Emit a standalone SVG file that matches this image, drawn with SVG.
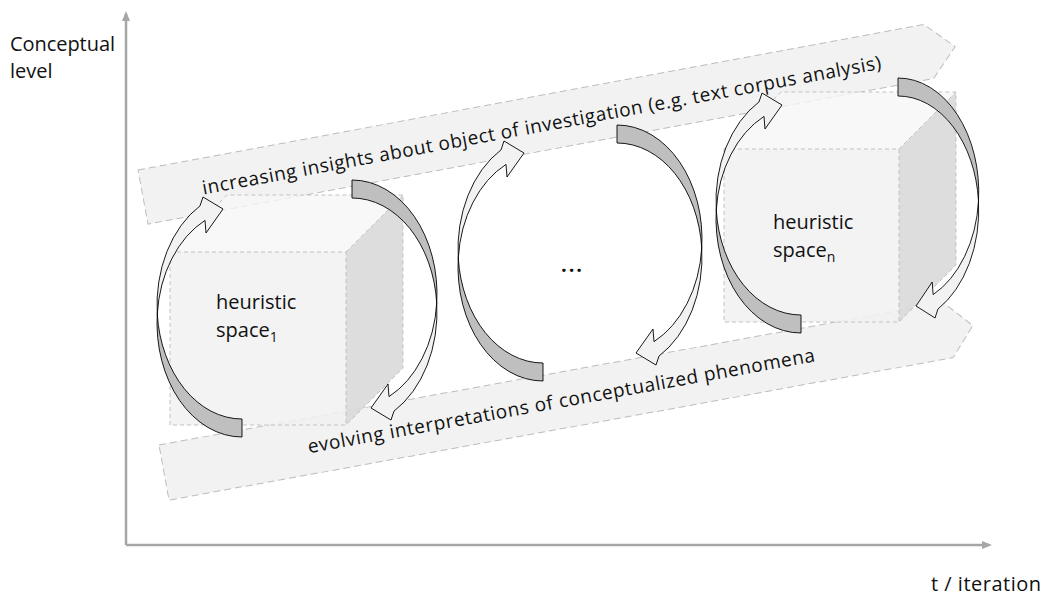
<svg xmlns="http://www.w3.org/2000/svg" width="1043" height="598" viewBox="0 0 1043 598">
  <style>
    text { font-family: "Open Sans", "Noto Sans", "Liberation Sans", sans-serif; font-size: 20px; fill: #111; }
    .band-label { font-size: 19px; }
    .axis { stroke: #a6a6a6; stroke-width: 2.5; fill: none; }
    .band { fill: #f2f2f2; stroke: #bdbdbd; stroke-width: 1; stroke-dasharray: 7 4; }
    .edge { stroke: #c2c2c2; stroke-width: 1; stroke-dasharray: 4 3; }
    .front { fill: #f1f1f1; fill-opacity: 0.85; }
    .top { fill: #f6f6f6; fill-opacity: 0.8; }
    .side { fill: #d9d9d9; fill-opacity: 0.9; }
    .under { fill: #bfbfbf; stroke: #000; stroke-width: 0.9; stroke-linejoin: round; }
    .over { fill: #f2f2f2; stroke: #000; stroke-width: 0.9; stroke-linejoin: miter; }
  </style>
  <defs>
    <marker id="axis-head" markerUnits="userSpaceOnUse" markerWidth="10" markerHeight="8" refX="7" refY="4" orient="auto">
      <path d="M0,0 L10,4 L0,8 Z" fill="#a6a6a6"/>
    </marker>
    <!-- half-loop ribbon arrow: tail end at the origin, head up and to the left -->
    <g id="loop-arrow">
      <path class="under" d="M-84.73,-123 A85,114 0 0 0 0,0 L0,-18 A85,114 0 0 1 -84.73,-123 Z"/>
      <path class="over" d="M-84.73,-123 A85,114 0 0 1 -42,-231.1 L-39,-240 L-19,-228 L-36,-204 L-37,-216.6 A85,114 0 0 0 -84.73,-123 Z"/>
    </g>
  </defs>

  <!-- axes -->
  <g id="axes">
    <line class="axis" x1="126" y1="545" x2="126" y2="14" marker-end="url(#axis-head)"/>
    <line class="axis" x1="126" y1="545" x2="989" y2="545" marker-end="url(#axis-head)"/>
    <text x="10" y="51" textLength="105">Conceptual</text>
    <text x="10" y="78">level</text>
    <text x="931" y="591" textLength="110">t / iteration</text>
  </g>

  <!-- upper band -->
  <g id="band-insights" transform="translate(138,170) rotate(-10.5)">
    <path class="band" d="M0,0 H799 L826,27.5 L799,55 H0 Z"/>
    <text class="band-label" x="60" y="36" textLength="690">increasing insights about object of investigation (e.g. text corpus analysis)</text>
  </g>

  <!-- lower band -->
  <g id="band-interpretations" transform="translate(159,445) rotate(-10.3)">
    <path class="band" d="M0,0 H797 L822,28 L797,56 H0 Z"/>
    <text class="band-label" x="146" y="35" textLength="515">evolving interpretations of conceptualized phenomena</text>
  </g>

  <!-- first heuristic space -->
  <g id="space-1">
    <rect class="front" x="170" y="252" width="176" height="173"/>
    <polygon class="top" points="170,252 227,195 403,195 346,252"/>
    <polygon class="side" points="346,252 403,195 403,368 346,425"/>
    <g class="edge" fill="none">
      <rect x="170" y="252" width="176" height="173"/>
      <polyline points="170,252 227,195 403,195 403,368 346,425"/>
      <line x1="346" y1="252" x2="403" y2="195"/>
    </g>
    <text x="216" y="309">heuristic</text>
    <text x="216" y="337">space<tspan dy="5" font-size="14">1</tspan></text>
  </g>

  <!-- intermediate iterations -->
  <g id="space-ellipsis">
    <text x="561" y="272" font-size="24" font-weight="bold" textLength="21">...</text>
  </g>

  <!-- last heuristic space -->
  <g id="space-n">
    <rect class="front" x="724" y="149" width="175" height="173"/>
    <polygon class="top" points="724,149 781,92 956,92 899,149"/>
    <polygon class="side" points="899,149 956,92 956,265 899,322"/>
    <g class="edge" fill="none">
      <rect x="724" y="149" width="175" height="173"/>
      <polyline points="724,149 781,92 956,92 956,265 899,322"/>
      <line x1="899" y1="149" x2="956" y2="92"/>
    </g>
    <text x="773" y="229">heuristic</text>
    <text x="773" y="257">space<tspan dy="5" font-size="14">n</tspan></text>
  </g>

  <!-- iteration loops -->
  <g id="connectors">
    <use href="#loop-arrow" transform="translate(242,437)"/>
    <use href="#loop-arrow" transform="translate(352,180) rotate(180)"/>
    <use href="#loop-arrow" transform="translate(543,381)"/>
    <use href="#loop-arrow" transform="translate(617,125) rotate(180)"/>
    <use href="#loop-arrow" transform="translate(801,333)"/>
    <use href="#loop-arrow" transform="translate(898,78) rotate(180) scale(0.95,1)"/>
  </g>
</svg>
